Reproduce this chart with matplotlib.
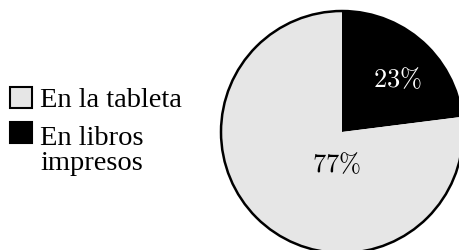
import matplotlib
matplotlib.use("Agg")
import matplotlib.pyplot as plt
from matplotlib.patches import Rectangle

labels = ["En la tableta", "En libros\nimpresos"]
values = [23, 77]
colors = ["#000000", "#e6e6e6"]
legend_colors = ["#e6e6e6", "#000000"]
pct_labels = [r"$\mathit{23\%}$", r"$77\%$"]
pct_colors = ["#ffffff", "#000000"]
pct_pos = [(0.46, 0.43), (-0.05, -0.27)]

plt.rcParams["mathtext.fontset"] = "cm"
W, H = 460, 250
fig = plt.figure(figsize=(W / 100, H / 100), dpi=100)

cx, cy, r = 342, 132, 121
m = 1.1
ax = fig.add_axes([(cx - r * m) / W, (H - cy - r * m) / H, 2 * r * m / W, 2 * r * m / H])
ax.pie(values, colors=colors, startangle=90, counterclock=False,
       radius=1, wedgeprops=dict(edgecolor="none"))
circle = plt.Circle((0, 0), 1, fill=False, edgecolor="black", linewidth=1.8)
ax.add_patch(circle)
ax.set_xlim(-m, m)
ax.set_ylim(-m, m)
ax.axis("off")
for t, c, (x, y) in zip(pct_labels, pct_colors, pct_pos):
    ax.text(x, y, t, color=c, fontsize=19, ha="center", va="center")

# legend drawn manually (square aligned with the first line of each label)
sq_y = [87, 122]
txt_base = [107, 170]
for lab, col, sy, tb in zip(labels, legend_colors, sq_y, txt_base):
    fig.add_artist(Rectangle((10 / W, 1 - (sy + 21) / H), 22 / W, 21 / H,
                             facecolor=col, edgecolor="black", linewidth=1.5,
                             transform=fig.transFigure))
    fig.text(40 / W, 1 - tb / H, lab, fontsize=20.5, family="Liberation Serif",
             va="baseline", ha="left", linespacing=1.0)

fig.savefig("out.png", dpi=100)
